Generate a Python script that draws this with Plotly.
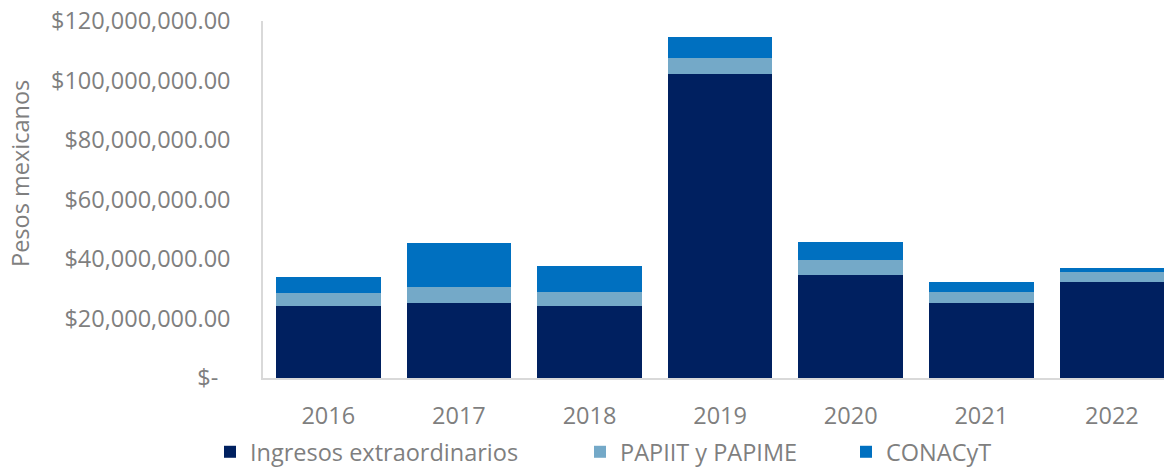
import plotly.graph_objects as go

years = ["2016", "2017", "2018", "2019", "2020", "2021", "2022"]
ingresos = [24.2e6, 25.2e6, 24.2e6, 102.1e6, 34.7e6, 25.2e6, 32.3e6]
papiit = [4.3e6, 5.3e6, 4.7e6, 5.6e6, 5.0e6, 3.7e6, 3.4e6]
conacyt = [5.4e6, 14.9e6, 8.6e6, 6.9e6, 6.1e6, 3.3e6, 1.4e6]

y_tickvals = [0, 20e6, 40e6, 60e6, 80e6, 100e6, 120e6]
y_ticktext = ["$-\u00a0\u00a0", "$20,000,000.00", "$40,000,000.00", "$60,000,000.00",
              "$80,000,000.00", "$100,000,000.00", "$120,000,000.00"]

series_names = ["Ingresos extraordinarios", "PAPIIT y PAPIME", "CONACyT"]
colors = ["#002060", "#74A9C8", "#0070C0"]

FONT = "Open Sans"
FS = 23.5
GRAY = "#7f7f7f"

W, H = 1164, 467
L, R, T, B = 263, 0, 21, 89
plot_w = W - L - R
px_per_cat = 130.6

fig = go.Figure()
for i, (name, vals) in enumerate(zip(series_names, [ingresos, papiit, conacyt])):
    fig.add_trace(go.Bar(
        x=years, y=vals, name=name,
        marker=dict(color=colors[i], line=dict(width=0)),
        legend="legend" if i == 0 else f"legend{i+1}",
    ))

legend_common = dict(
    orientation="h", yref="container", yanchor="middle", y=1 - 452 / H,
    xanchor="left", font=dict(family=FONT, size=FS, color=GRAY),
    bgcolor="rgba(0,0,0,0)", borderwidth=0,
)
text_starts = [250, 620, 886]
lx = [((ts - 40) - L) / plot_w for ts in text_starts]

fig.update_layout(
    width=W, height=H,
    margin=dict(l=L, r=R, t=T, b=B, pad=0),
    barmode="stack", bargap=0.2,
    plot_bgcolor="white", paper_bgcolor="white",
    font=dict(family=FONT, size=FS, color=GRAY),
    showlegend=True,
    legend=dict(x=lx[0], **legend_common),
    legend2=dict(x=lx[1], **legend_common),
    legend3=dict(x=lx[2], **legend_common),
    xaxis=dict(
        type="category", range=[-0.5, -0.5 + plot_w / px_per_cat],
        showline=True, linecolor="#d9d9d9", linewidth=1.5,
        ticks="", showgrid=False, zeroline=False, automargin=False,
        tickfont=dict(family=FONT, size=FS, color=GRAY),
        ticklabelstandoff=16,
    ),
    yaxis=dict(
        range=[0, 120e6], tickvals=y_tickvals, ticktext=y_ticktext,
        showline=True, linecolor="#d9d9d9", linewidth=1.5,
        ticks="", showgrid=False, zeroline=False, automargin=False,
        tickfont=dict(family=FONT, size=FS, color=GRAY),
        ticklabelstandoff=26,
    ),
    annotations=[dict(
        text="Pesos mexicanos", textangle=-90,
        xref="paper", yref="paper", x=(20 - L) / plot_w, y=(378 - 174) / (378 - 21),
        xanchor="center", yanchor="middle", showarrow=False,
        font=dict(family=FONT, size=FS, color=GRAY),
    )],
)

fig.write_html("out.html", config={"displayModeBar": False},
               post_script="document.body.style.margin='0';document.body.style.overflow='hidden';")
